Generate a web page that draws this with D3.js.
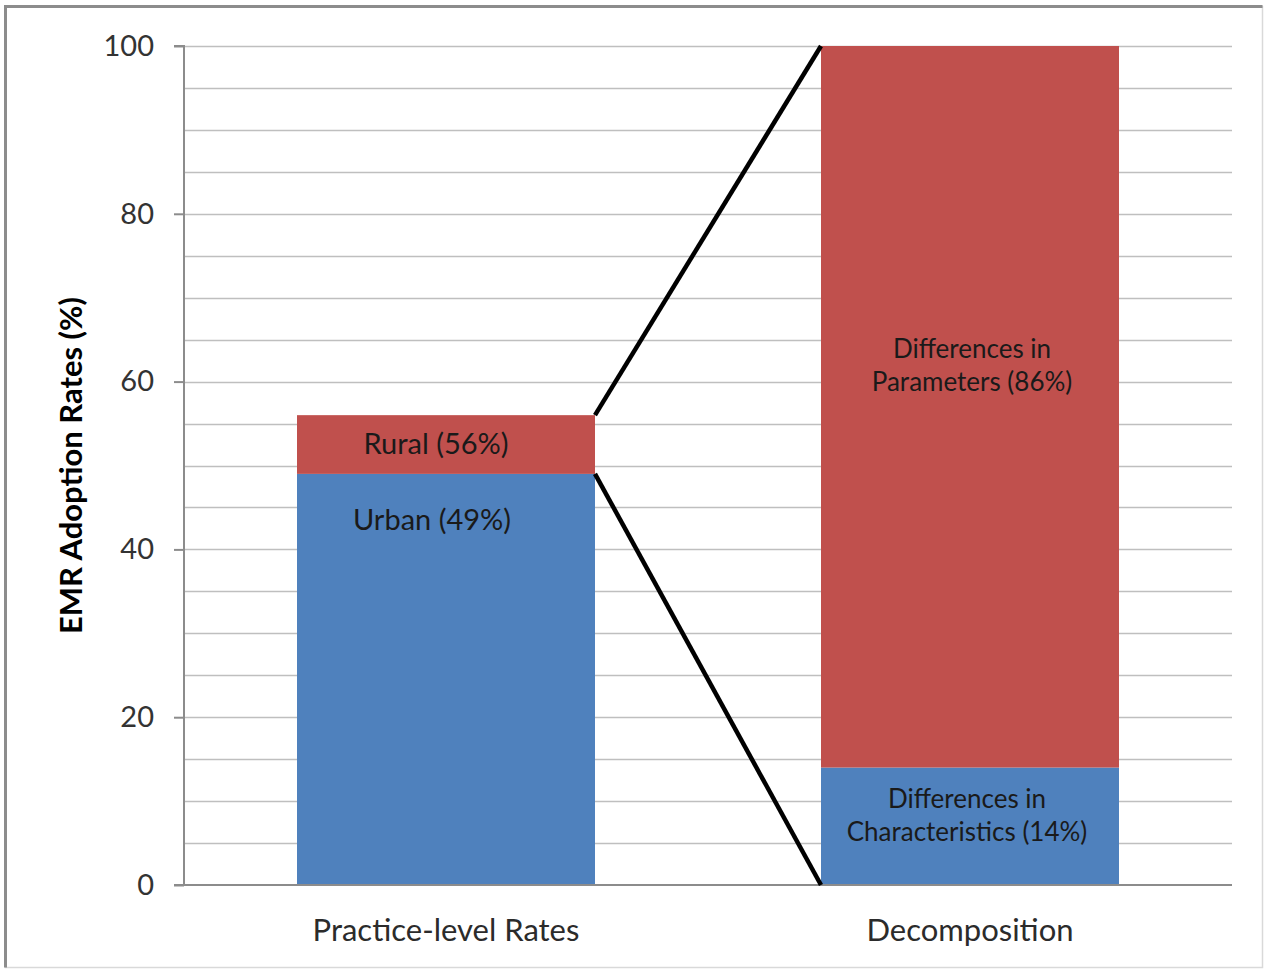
<!DOCTYPE html>
<html>
<head>
<meta charset="utf-8">
<script src="https://cdn.jsdelivr.net/npm/d3@7"></script>
<style>
  html, body { margin: 0; padding: 0; background: #fff; }
  svg { display: block; }
  text { font-family: Lato, "Open Sans", "Liberation Sans", sans-serif; }
</style>
</head>
<body>
<svg id="chart" width="1265" height="970"></svg>
<script>
// Categories along the x axis
const categories = ["Practice-level Rates", "Decomposition"];
// Lower (blue) and upper (red) segment tops for each category
const lowerValues = [49, 14];
const upperValues = [56, 100];
const lowerLabels = [["Urban (49%)"], ["Differences in", "Characteristics (14%)"]];
const upperLabels = [["Rural (56%)"], ["Differences in", "Parameters (86%)"]];
const yTicks = [0, 20, 40, 60, 80, 100];
const yMinorTicks = d3.range(0, 101, 5);
const yTitle = "EMR Adoption Rates (%)";

const BLUE = "#4F81BD", RED = "#C0504D";

const svg = d3.select("#chart");
const W = 1265, H = 970;
const plot = { left: 184, right: 1232, top: 46, bottom: 885 };

// Outer frame
svg.append("rect").attr("x", 5.5).attr("y", 6.5).attr("width", W - 8).attr("height", H - 9)
  .attr("fill", "#fff").attr("stroke", "#d9d9d9").attr("stroke-width", 1.5);
svg.append("path").attr("d", `M5.5,${H - 2.5} V6.5 H${W - 2.5}`)
  .attr("fill", "none").attr("stroke", "#8c8c8c").attr("stroke-width", 3);

const x = d3.scaleBand().domain(categories).range([plot.left, plot.right]).paddingInner(0).paddingOuter(0);
const y = d3.scaleLinear().domain([0, 100]).range([plot.bottom, plot.top]);
const barW = 298;

// Gridlines every 5
svg.append("g").selectAll("line").data(yMinorTicks.filter(d => d > 0)).join("line")
  .attr("x1", plot.left).attr("x2", plot.right)
  .attr("y1", d => Math.round(y(d)) + 0.5).attr("y2", d => Math.round(y(d)) + 0.5)
  .attr("stroke", "#bfbfbf").attr("stroke-width", 1.5);

// Bars
const bx = c => x(c) + (x.bandwidth() - barW) / 2;
const g = svg.append("g");
categories.forEach((c, i) => {
  g.append("rect").attr("x", bx(c)).attr("width", barW)
    .attr("y", y(lowerValues[i])).attr("height", y(0) - y(lowerValues[i])).attr("fill", BLUE);
  g.append("rect").attr("x", bx(c)).attr("width", barW)
    .attr("y", y(upperValues[i])).attr("height", y(lowerValues[i]) - y(upperValues[i])).attr("fill", RED);
});

// Y axis
const yAxis = d3.axisLeft(y).tickValues(yTicks).tickSize(10).tickPadding(20).tickFormat(d3.format("d"));
const ya = svg.append("g").attr("transform", `translate(${plot.left},0)`).call(yAxis);
ya.select(".domain").attr("stroke", "#8c8c8c").attr("stroke-width", 2).attr("d", `M-10,${plot.bottom}H0V${plot.top}H-10`);
ya.selectAll(".tick line").attr("stroke", "#8c8c8c").attr("stroke-width", 2);
ya.selectAll(".tick text").attr("font-size", 29).attr("fill", "#333")
  .attr("font-family", "Lato, 'Open Sans', sans-serif");

// Baseline across the plot
svg.append("line").attr("x1", plot.left).attr("x2", plot.right)
  .attr("y1", y(0)).attr("y2", y(0)).attr("stroke", "#8c8c8c").attr("stroke-width", 2);

// X axis labels
const xa = svg.append("g").attr("transform", `translate(0,${plot.bottom})`)
  .call(d3.axisBottom(x).tickSize(0).tickPadding(34));
xa.select(".domain").remove();
xa.selectAll(".tick text").attr("font-size", 31).attr("fill", "#2b2b2b")
  .attr("font-family", "Lato, 'Open Sans', sans-serif").attr("dy", "0.71em");

// Connector lines from the first bar to the decomposition bar
const r0 = bx(categories[0]) + barW, l1 = bx(categories[1]);
svg.append("line").attr("x1", r0).attr("y1", y(upperValues[0])).attr("x2", l1).attr("y2", y(upperValues[1]))
  .attr("stroke", "#000").attr("stroke-width", 4.5);
svg.append("line").attr("x1", r0).attr("y1", y(lowerValues[0])).attr("x2", l1).attr("y2", y(0))
  .attr("stroke", "#000").attr("stroke-width", 4.5);

// Segment labels
function segLabel(cx, cy, lines, size) {
  const t = svg.append("text").attr("x", cx).attr("text-anchor", "middle")
    .attr("font-size", size).attr("fill", "#1a1a1a");
  const lh = 33;
  lines.forEach((s, k) => {
    t.append("tspan").attr("x", cx).attr("y", cy + (k - (lines.length - 1) / 2) * lh).attr("dy", "0.35em").text(s);
  });
}
const cx0 = x(categories[0]) + x.bandwidth() / 2;
const cx1 = x(categories[1]) + x.bandwidth() / 2;
segLabel(cx0 - 10, 444, upperLabels[0], 29);
segLabel(cx0 - 14, 520, lowerLabels[0], 29);
segLabel(cx1 + 2, 365, upperLabels[1], 26);
segLabel(cx1 - 3, 815, lowerLabels[1], 26);

// Y axis title
svg.append("text").attr("transform", `translate(82,${(plot.top + plot.bottom) / 2}) rotate(-90)`)
  .attr("text-anchor", "middle").attr("font-size", 31).attr("font-weight", "bold").attr("fill", "#000")
  .text(yTitle);
</script>
</body>
</html>
